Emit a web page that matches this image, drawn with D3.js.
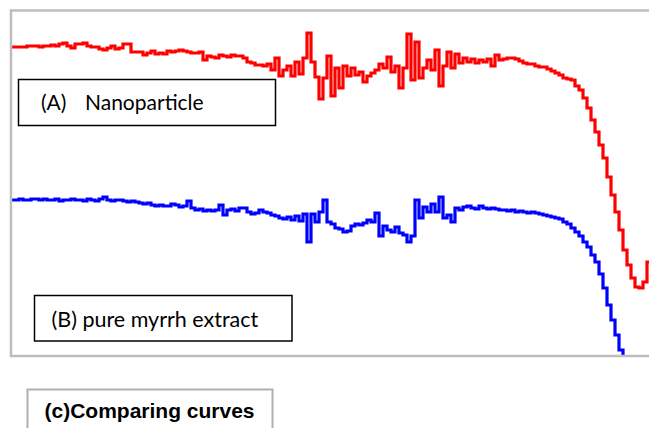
<!DOCTYPE html>
<html>
<head>
<meta charset="utf-8">
<script src="https://cdn.jsdelivr.net/npm/d3@7"></script>
<style>
  body { margin: 0; background: #fff; }
</style>
</head>
<body>
<script>
// transmittance-like signal (arbitrary units), one reading per sample step
var nanoparticle = [
  308,308,308,308,309,309,309,308,309,309,
  310,309,311,312,309,307,311,311,312,309,
  308,308,306,305,307,309,306,307,311,311,
  303,303,303,300,302,304,301,302,301,304,
  303,304,305,304,303,302,302,303,295,299,
  298,297,300,299,298,300,299,299,297,293,
  292,290,290,289,291,285,297,279,285,289,
  279,293,281,297,322,293,278,256,277,299,
  259,287,267,289,279,287,280,283,273,279,
  282,285,291,287,298,283,289,267,287,321,
  275,313,277,287,295,285,305,269,289,303,
  287,301,292,297,293,296,292,295,293,296,
  289,300,295,296,297,297,296,294,292,291,
  291,289,288,288,286,284,282,280,277,276,
  275,269,265,257,247,235,223,210,197,178,
  160,143,125,105,90,77,68,67,73,93,
  110
];

var myrrh = [
  155,155,156,155,155,156,156,155,156,155,
  155,156,154,155,155,156,155,155,154,156,
  155,154,156,158,155,154,155,155,154,153,
  154,153,152,151,152,150,149,150,149,149,
  151,150,148,149,154,147,145,146,144,145,
  144,145,150,140,145,146,144,147,147,143,
  141,142,145,143,142,140,139,137,136,138,
  135,139,134,141,113,141,133,143,155,133,
  131,127,126,123,124,129,131,130,132,135,
  133,142,119,129,125,123,128,122,120,113,
  119,155,137,148,143,151,143,158,137,140,
  133,147,145,148,149,147,146,149,147,146,
  147,146,145,145,144,145,143,144,143,142,
  143,142,141,140,139,138,137,136,133,131,
  127,123,119,113,108,100,93,81,67,50,
  35,20,5,-7
];

var labelA = ["(A)", "Nanoparticle"],
    labelB = "(B) pure myrrh extract",
    labelC = "(c)Comparing curves";

var svg = d3.select("body").append("svg")
    .attr("width", 649)
    .attr("height", 428);

var plot = {left: 11, top: 10.5, right: 655, bottom: 356};

var x = d3.scaleLinear()
    .domain([0, 160])
    .range([plot.left, plot.left + 640]);

var y = d3.scaleLinear()
    .domain([0, 345])
    .range([355, 10]);

svg.append("clipPath")
    .attr("id", "clip")
  .append("rect")
    .attr("x", plot.left)
    .attr("y", plot.top)
    .attr("width", plot.right - plot.left)
    .attr("height", plot.bottom - plot.top);

var line = d3.line()
    .x(function(d, i) { return x(i); })
    .y(function(d) { return y(d); })
    .curve(d3.curveStepAfter);

var g = svg.append("g").attr("clip-path", "url(#clip)");

g.append("path")
    .datum(nanoparticle)
    .attr("fill", "none")
    .attr("stroke", "#ff0000")
    .attr("stroke-width", 3.2)
    .attr("d", line);

g.append("path")
    .datum(myrrh)
    .attr("fill", "none")
    .attr("stroke", "#0000ff")
    .attr("stroke-width", 3.2)
    .attr("d", line);

// plot frame
svg.append("rect")
    .attr("x", plot.left)
    .attr("y", plot.top)
    .attr("width", plot.right - plot.left)
    .attr("height", plot.bottom - plot.top)
    .attr("fill", "none")
    .attr("stroke", "#bdbdbd")
    .attr("stroke-width", 2.5);

// label boxes
svg.append("rect")
    .attr("x", 18.5).attr("y", 79.5)
    .attr("width", 257).attr("height", 46)
    .attr("fill", "#fff")
    .attr("stroke", "#000")
    .attr("stroke-width", 1.5);

svg.append("text")
    .attr("x", 41).attr("y", 110)
    .attr("font-family", "Lato, 'Open Sans', sans-serif")
    .attr("font-size", 21)
    .attr("fill", "#000")
    .text(labelA[0]);

svg.append("text")
    .attr("x", 85).attr("y", 110)
    .attr("font-family", "Lato, 'Open Sans', sans-serif")
    .attr("font-size", 21)
    .attr("fill", "#000")
    .text(labelA[1]);

svg.append("rect")
    .attr("x", 34.5).attr("y", 295.5)
    .attr("width", 257.5).attr("height", 45.5)
    .attr("fill", "#fff")
    .attr("stroke", "#000")
    .attr("stroke-width", 1.5);

svg.append("text")
    .attr("x", 51.5).attr("y", 327)
    .attr("font-family", "Lato, 'Open Sans', sans-serif")
    .attr("font-size", 21.5)
    .attr("fill", "#000")
    .text(labelB);

svg.append("rect")
    .attr("x", 27.5).attr("y", 389.5)
    .attr("width", 245).attr("height", 50)
    .attr("fill", "#fff")
    .attr("stroke", "#b0b0b0")
    .attr("stroke-width", 2);

svg.append("text")
    .attr("x", 44.5).attr("y", 418)
    .attr("font-family", "'Liberation Sans', Arial, sans-serif")
    .attr("font-weight", "bold")
    .attr("font-size", 21)
    .attr("fill", "#000")
    .text(labelC);
</script>
</body>
</html>
